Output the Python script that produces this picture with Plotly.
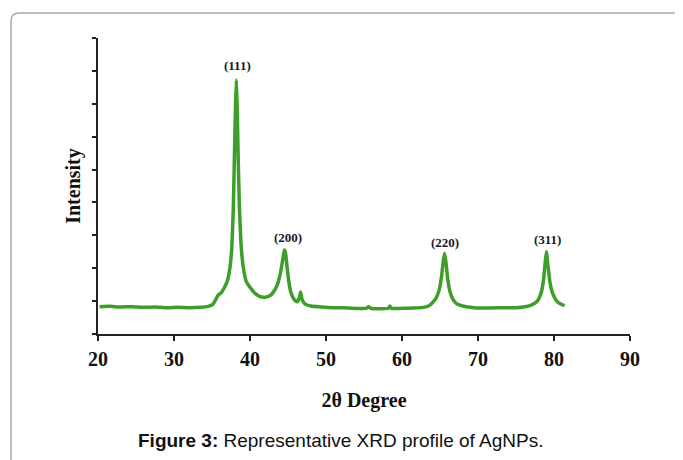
import plotly.graph_objects as go

# XRD profile (2θ in degrees, intensity in axis-tick units)
two_theta = [20.2, 21.5, 23.0, 24.5, 26.0, 27.5, 29.0, 30.5, 32.0, 33.5, 34.5, 35.1, 35.5, 35.8,
             36.2, 36.6, 37.0, 37.35, 37.6, 37.8, 37.95, 38.1, 38.2, 38.3, 38.45, 38.6, 38.8,
             39.1, 39.5, 40.0, 40.6, 41.3, 42.0, 42.6, 43.1, 43.6, 44.0, 44.3, 44.5, 44.65,
             44.85, 45.1, 45.4, 45.8, 46.2, 46.5, 46.65, 46.85, 47.2, 48.0, 49.5, 51.0, 53.0,
             55.3, 55.6, 55.9, 57.0, 58.2, 58.4, 58.6, 60.0, 61.5, 62.8, 63.5, 64.0, 64.5,
             64.9, 65.2, 65.45, 65.6, 65.8, 66.0, 66.3, 66.7, 67.2, 68.0, 69.5, 71.5, 73.5,
             75.0, 76.0, 77.0, 77.8, 78.3, 78.6, 78.85, 79.0, 79.2, 79.45, 79.8, 80.3, 80.8, 81.4]
intensity = [0.83, 0.84, 0.82, 0.83, 0.81, 0.82, 0.80, 0.81, 0.80, 0.81, 0.84, 0.90, 1.05, 1.18,
             1.25, 1.40, 1.60, 2.00, 2.60, 3.80, 5.40, 7.00, 7.72, 7.00, 5.30, 3.90, 2.80,
             2.05, 1.60, 1.42, 1.25, 1.14, 1.12, 1.16, 1.28, 1.50, 1.85, 2.25, 2.55, 2.50,
             2.10, 1.60, 1.25, 1.05, 0.98, 1.10, 1.28, 1.05, 0.92, 0.85, 0.82, 0.80, 0.79,
             0.78, 0.83, 0.78, 0.77, 0.78, 0.85, 0.78, 0.78, 0.79, 0.81, 0.85, 0.95, 1.10,
             1.35, 1.75, 2.25, 2.45, 2.15, 1.70, 1.30, 1.05, 0.92, 0.85, 0.80, 0.79, 0.80,
             0.80, 0.82, 0.88, 1.00, 1.25, 1.60, 2.20, 2.50, 2.10, 1.60, 1.25, 1.02, 0.92, 0.86]

peak_labels = ["(111)", "(200)", "(220)", "(311)"]
label_x = [38.4, 45.0, 65.65, 79.2]
label_y = [8.15, 2.92, 2.77, 2.86]

x_ticks = [20, 30, 40, 50, 60, 70, 80, 90]

serif = "Liberation Serif, Times New Roman, serif"
sans = "Liberation Sans, Arial, sans-serif"

fig = go.Figure()
fig.add_trace(go.Scatter(
    x=two_theta, y=intensity, mode="lines",
    line=dict(color="rgb(62,158,42)", width=3.5, shape="spline", smoothing=0.4),
    showlegend=False, hoverinfo="x+y"))

for t, lx, ly in zip(peak_labels, label_x, label_y):
    fig.add_annotation(x=lx, y=ly, text=t, showarrow=False,
                       font=dict(family=serif, size=13, color="#1a1a2a", weight="bold"))

# caption
fig.add_annotation(xref="paper", yref="paper", x=0.457, y=-0.36, yanchor="middle",
                   text="<b>Figure 3:</b> Representative XRD profile of AgNPs.",
                   showarrow=False, font=dict(family=sans, size=19, color="#111111"))

# rounded frame (top + left edges visible)
x0, yt, yb, x1 = -0.1635, 1.0845, -0.6, 1.2
dx, dy = 8 / 532, 8 / 296
fig.add_shape(type="path", xref="paper", yref="paper",
              path=f"M {x0},{yb} L {x0},{yt-dy} Q {x0},{yt} {x0+dx},{yt} L {x1},{yt}",
              line=dict(color="#aaaaaa", width=1.5))

# page body has an 8px margin; figure sized/margined to compensate
fig.update_layout(
    width=675, height=452,
    margin=dict(l=90, r=53, t=30, b=126),
    paper_bgcolor="white", plot_bgcolor="white",
    xaxis=dict(range=[20, 90], tickvals=x_ticks, ticktext=[str(v) for v in x_ticks],
               showgrid=False, zeroline=False, showline=True, linecolor="#222222", linewidth=1.5,
               ticks="outside", ticklen=5, tickwidth=1.5, tickcolor="#222222",
               ticklabelstandoff=1,
               tickfont=dict(family=serif, size=20, color="#111111", weight="bold"),
               title=dict(text="2θ Degree", standoff=24,
                          font=dict(family=serif, size=20, color="#111111", weight="bold"))),
    yaxis=dict(range=[0, 9], dtick=1, showticklabels=False,
               showgrid=False, zeroline=False, showline=True, linecolor="#222222", linewidth=1.5,
               ticks="outside", ticklen=4, tickwidth=1.5, tickcolor="#222222",
               title=dict(text="Intensity", standoff=6,
                          font=dict(family=serif, size=20, color="#111111", weight="bold"))),
)

fig.write_html("out.html")
